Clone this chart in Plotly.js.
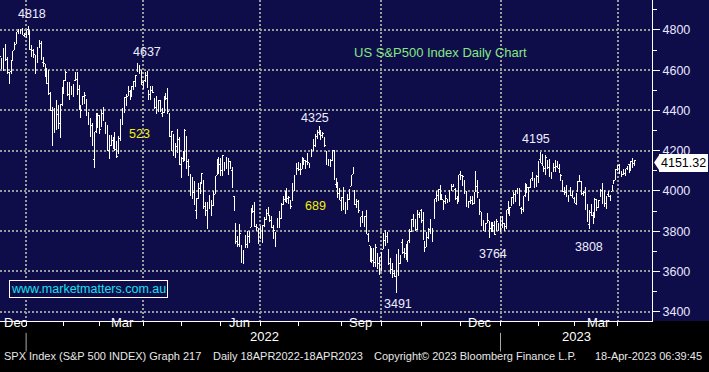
<!DOCTYPE html>
<html>
<head>
<meta charset="utf-8">
<script src="https://cdn.plot.ly/plotly-3.0.1.min.js"></script>
<style>html,body{margin:0;padding:0;background:#000;}#chart{width:709px;height:372px;}
#chart .trace.ohlc path{shape-rendering:crispEdges;}</style>
</head>
<body>
<div id="chart"></div>
<script>
// ---- Data: SPX daily OHLC ----
const dates = [
 '2021-12-13','2021-12-14','2021-12-15','2021-12-16','2021-12-17','2021-12-20','2021-12-21','2021-12-22','2021-12-23','2021-12-27','2021-12-28','2021-12-29','2021-12-30','2021-12-31',
 '2022-01-03','2022-01-04','2022-01-05','2022-01-06','2022-01-07','2022-01-10','2022-01-11','2022-01-12','2022-01-13','2022-01-14','2022-01-18','2022-01-19','2022-01-20','2022-01-21','2022-01-24','2022-01-25','2022-01-26','2022-01-27','2022-01-28','2022-01-31',
 '2022-02-01','2022-02-02','2022-02-03','2022-02-04','2022-02-07','2022-02-08','2022-02-09','2022-02-10','2022-02-11','2022-02-14','2022-02-15','2022-02-16','2022-02-17','2022-02-18','2022-02-22','2022-02-23','2022-02-24','2022-02-25','2022-02-28',
 '2022-03-01','2022-03-02','2022-03-03','2022-03-04','2022-03-07','2022-03-08','2022-03-09','2022-03-10','2022-03-11','2022-03-14','2022-03-15','2022-03-16','2022-03-17','2022-03-18','2022-03-21','2022-03-22','2022-03-23','2022-03-24','2022-03-25','2022-03-28','2022-03-29','2022-03-30','2022-03-31',
 '2022-04-01','2022-04-04','2022-04-05','2022-04-06','2022-04-07','2022-04-08','2022-04-11','2022-04-12','2022-04-13','2022-04-14','2022-04-18','2022-04-19','2022-04-20','2022-04-21','2022-04-22','2022-04-25','2022-04-26','2022-04-27','2022-04-28','2022-04-29',
 '2022-05-02','2022-05-03','2022-05-04','2022-05-05','2022-05-06','2022-05-09','2022-05-10','2022-05-11','2022-05-12','2022-05-13','2022-05-16','2022-05-17','2022-05-18','2022-05-19','2022-05-20','2022-05-23','2022-05-24','2022-05-25','2022-05-26','2022-05-27','2022-05-31',
 '2022-06-01','2022-06-02','2022-06-03','2022-06-06','2022-06-07','2022-06-08','2022-06-09','2022-06-10','2022-06-13','2022-06-14','2022-06-15','2022-06-16','2022-06-17','2022-06-21','2022-06-22','2022-06-23','2022-06-24','2022-06-27','2022-06-28','2022-06-29','2022-06-30',
 '2022-07-01','2022-07-05','2022-07-06','2022-07-07','2022-07-08','2022-07-11','2022-07-12','2022-07-13','2022-07-14','2022-07-15','2022-07-18','2022-07-19','2022-07-20','2022-07-21','2022-07-22','2022-07-25','2022-07-26','2022-07-27','2022-07-28','2022-07-29',
 '2022-08-01','2022-08-02','2022-08-03','2022-08-04','2022-08-05','2022-08-08','2022-08-09','2022-08-10','2022-08-11','2022-08-12','2022-08-15','2022-08-16','2022-08-17','2022-08-18','2022-08-19','2022-08-22','2022-08-23','2022-08-24','2022-08-25','2022-08-26','2022-08-29','2022-08-30','2022-08-31',
 '2022-09-01','2022-09-02','2022-09-06','2022-09-07','2022-09-08','2022-09-09','2022-09-12','2022-09-13','2022-09-14','2022-09-15','2022-09-16','2022-09-19','2022-09-20','2022-09-21','2022-09-22','2022-09-23','2022-09-26','2022-09-27','2022-09-28','2022-09-29','2022-09-30',
 '2022-10-03','2022-10-04','2022-10-05','2022-10-06','2022-10-07','2022-10-10','2022-10-11','2022-10-12','2022-10-13','2022-10-14','2022-10-17','2022-10-18','2022-10-19','2022-10-20','2022-10-21','2022-10-24','2022-10-25','2022-10-26','2022-10-27','2022-10-28','2022-10-31',
 '2022-11-01','2022-11-02','2022-11-03','2022-11-04','2022-11-07','2022-11-08','2022-11-09','2022-11-10','2022-11-11','2022-11-14','2022-11-15','2022-11-16','2022-11-17','2022-11-18','2022-11-21','2022-11-22','2022-11-23','2022-11-25','2022-11-28','2022-11-29','2022-11-30',
 '2022-12-01','2022-12-02','2022-12-05','2022-12-06','2022-12-07','2022-12-08','2022-12-09','2022-12-12','2022-12-13','2022-12-14','2022-12-15','2022-12-16','2022-12-19','2022-12-20','2022-12-21','2022-12-22','2022-12-23','2022-12-27','2022-12-28','2022-12-29','2022-12-30',
 '2023-01-03','2023-01-04','2023-01-05','2023-01-06','2023-01-09','2023-01-10','2023-01-11','2023-01-12','2023-01-13','2023-01-17','2023-01-18','2023-01-19','2023-01-20','2023-01-23','2023-01-24','2023-01-25','2023-01-26','2023-01-27','2023-01-30','2023-01-31',
 '2023-02-01','2023-02-02','2023-02-03','2023-02-06','2023-02-07','2023-02-08','2023-02-09','2023-02-10','2023-02-13','2023-02-14','2023-02-15','2023-02-16','2023-02-17','2023-02-21','2023-02-22','2023-02-23','2023-02-24','2023-02-27','2023-02-28',
 '2023-03-01','2023-03-02','2023-03-03','2023-03-06','2023-03-07','2023-03-08','2023-03-09','2023-03-10','2023-03-13','2023-03-14','2023-03-15','2023-03-16','2023-03-17','2023-03-20','2023-03-21','2023-03-22','2023-03-23','2023-03-24','2023-03-27','2023-03-28','2023-03-29','2023-03-30','2023-03-31',
 '2023-04-03','2023-04-04','2023-04-05','2023-04-06','2023-04-10','2023-04-11','2023-04-12','2023-04-13','2023-04-14','2023-04-17'
];
const open = [
 4710,4642,4637,4719,4652,4587,4594,4650,4704,4733,4795,4788,4795,4775,
 4778,4804,4788,4693,4698,4655,4670,4728,4734,4638,4633,4589,4548,4471,4357,4366,4408,4381,4337,4431,
 4519,4568,4535,4483,4505,4480,4548,4553,4506,4413,4429,4456,4456,4385,4332,4325,4155,4298,4354,
 4363,4323,4401,4342,4327,4202,4224,4253,4280,4202,4188,4289,4345,4407,4463,4470,4493,4470,4523,4541,4602,4624,4600,
 4540,4547,4573,4495,4475,4494,4462,4437,4394,4449,4386,4390,4473,4490,4385,4256,4279,4186,4222,4254,
 4130,4159,4181,4270,4129,4081,4035,3991,3903,3963,4013,4052,4052,3900,3928,3920,3942,3930,3985,4078,4152,
 4150,4096,4137,4135,4096,4148,4102,3975,3838,3764,3764,3729,3665,3715,3733,3774,3821,3913,3913,3825,3785,
 3782,3792,3831,3858,3888,3880,3851,3774,3764,3818,3883,3861,3935,3956,4000,3965,3953,3951,4027,4087,
 4113,4105,4107,4154,4116,4156,4133,4171,4227,4225,4270,4291,4281,4273,4266,4195,4134,4126,4154,4199,4034,4041,4000,
 3937,3994,3930,3910,3960,4023,4083,4000,3941,3933,3831,3849,3876,3871,3783,3727,3683,3687,3651,3687,3633,
 3610,3710,3753,3773,3707,3650,3595,3591,3520,3690,3638,3746,3695,3689,3657,3762,3799,3825,3835,3808,3881,
 3901,3853,3733,3766,3780,3818,3810,3860,3964,3978,4007,3976,3919,3967,3957,3958,4000,4024,4005,3964,3958,
 4087,4040,4052,3997,3934,3947,3954,3940,4070,4015,3958,3891,3853,3811,3839,3853,3816,3844,3829,3805,3830,
 3853,3840,3840,3824,3910,3888,3932,3977,3961,3999,4003,3912,3910,3979,4001,3982,4037,4053,4049,4021,
 4071,4158,4137,4120,4106,4154,4144,4068,4096,4118,4120,4114,4077,4053,4001,4018,3973,3992,3977,
 3964,3938,3998,4056,4048,3987,3998,3912,3835,3894,3876,3878,3959,3917,3975,4002,3959,3939,3982,3974,3999,4047,4057,
 4102,4129,4094,4082,4085,4111,4132,4107,4140,4137
];
const high = [
 4711,4660,4713,4731,4666,4592,4651,4698,4741,4791,4807,4805,4808,4787,
 4797,4819,4798,4726,4708,4674,4715,4749,4744,4665,4633,4612,4603,4494,4418,4411,4453,4429,4432,4517,
 4551,4596,4543,4540,4522,4531,4591,4589,4527,4427,4472,4490,4456,4394,4363,4339,4295,4385,4388,
 4379,4401,4417,4343,4327,4277,4277,4268,4291,4247,4271,4358,4412,4465,4481,4522,4501,4521,4546,4576,4637,4627,4603,
 4549,4593,4594,4504,4521,4521,4464,4471,4453,4453,4410,4471,4489,4512,4386,4300,4279,4240,4308,4269,
 4170,4200,4308,4270,4158,4082,4069,4050,3964,4039,4047,4090,4052,3946,3944,3981,3955,3999,4075,4158,4169,
 4166,4177,4142,4168,4164,4149,4119,3975,3838,3778,3838,3729,3707,3779,3802,3803,3913,3928,3945,3837,3818,
 3827,3832,3871,3911,3919,3880,3874,3829,3796,3864,3903,3939,3975,3999,4013,3976,3954,4039,4079,4141,
 4144,4141,4168,4162,4152,4187,4138,4211,4258,4280,4301,4325,4302,4293,4266,4195,4160,4157,4200,4203,4063,4044,4016,
 3971,4018,3943,3987,4011,4077,4120,4001,3962,3957,3870,3900,3877,3907,3790,3727,3716,3717,3737,3688,3671,
 3697,3791,3807,3798,3712,3665,3641,3608,3685,3712,3680,3762,3719,3737,3753,3810,3862,3887,3860,3905,3894,
 3912,3894,3750,3797,3814,3860,3818,3959,4002,4009,4029,3984,3955,3979,3962,4004,4034,4035,4013,3976,4080,
 4101,4080,4053,4001,3951,3974,3977,3991,4101,4053,3959,3893,3855,3840,3889,3853,3846,3846,3849,3859,3840,
 3878,3874,3840,3907,3951,3920,3970,3997,4003,4015,4014,3922,3973,4039,4033,4020,4061,4095,4064,4077,
 4148,4195,4183,4126,4177,4156,4157,4095,4138,4153,4148,4136,4082,4054,4018,4029,3979,4018,3998,
 3971,3991,4048,4079,4051,4001,4018,3934,3906,3937,3894,3964,3959,3956,4009,4039,4003,3972,4000,3979,4030,4056,4110,
 4128,4134,4099,4108,4110,4124,4134,4151,4164,4152
];
const low = [
 4667,4607,4596,4648,4582,4531,4583,4645,4703,4733,4780,4778,4775,4765,
 4758,4774,4699,4666,4663,4582,4638,4713,4650,4615,4568,4531,4475,4396,4223,4287,4305,4310,4265,4420,
 4484,4545,4470,4451,4477,4465,4548,4477,4402,4365,4429,4430,4374,4327,4268,4222,4115,4287,4315,
 4284,4318,4346,4284,4199,4157,4224,4210,4200,4162,4188,4250,4330,4390,4424,4470,4455,4468,4502,4518,4589,4582,4530,
 4507,4540,4514,4453,4451,4487,4408,4382,4392,4392,4367,4389,4450,4385,4268,4200,4175,4163,4188,4128,
 4063,4144,4150,4107,4076,3975,3959,3929,3859,3959,3984,4033,3911,3876,3810,3909,3875,3925,3985,4078,4084,
 4074,4074,4098,4110,4080,4107,4017,3900,3735,3723,3722,3640,3637,3715,3717,3743,3821,3889,3820,3799,3738,
 3762,3744,3820,3858,3877,3847,3815,3759,3722,3818,3814,3861,3930,3946,3940,3936,3911,3951,3998,4080,
 4097,4079,4107,4128,4108,4129,4112,4168,4201,4219,4257,4278,4253,4262,4219,4130,4124,4121,4147,4057,4017,3965,3954,
 3903,3907,3886,3907,3954,4023,4083,3928,3915,3889,3823,3839,3823,3789,3749,3648,3644,3624,3623,3610,3584,
 3604,3710,3726,3740,3630,3588,3568,3573,3492,3580,3638,3687,3666,3656,3647,3741,3799,3825,3803,3808,3864,
 3843,3758,3698,3722,3763,3786,3745,3860,3944,3949,3953,3955,3907,3933,3940,3946,3999,4020,3956,3937,3943,
 4053,4026,3984,3919,3917,3936,3933,3936,3994,3966,3880,3827,3802,3796,3839,3764,3798,3798,3781,3800,3801,
 3794,3816,3802,3809,3887,3877,3924,3937,3947,3984,3927,3886,3898,3972,3990,3949,4013,4049,4015,4021,
 4038,4141,4123,4094,4080,4111,4070,4061,4093,4095,4114,4089,4048,3995,3982,3972,3944,3977,3968,
 3940,3928,3995,4044,3980,3974,3908,3846,3809,3874,3838,3864,3902,3917,3972,3937,3920,3910,3970,3951,3999,4036,4057,
 4100,4086,4069,4077,4073,4103,4087,4100,4114,4124
];
const close = [
 4669,4634,4710,4669,4621,4568,4649,4697,4726,4791,4786,4793,4779,4766,
 4797,4794,4701,4696,4677,4670,4713,4726,4659,4663,4577,4533,4483,4398,4410,4356,4350,4327,4432,4516,
 4547,4589,4477,4501,4484,4522,4587,4504,4419,4402,4471,4475,4380,4349,4305,4226,4289,4385,4374,
 4306,4387,4363,4329,4201,4171,4278,4260,4204,4173,4262,4358,4412,4463,4461,4512,4456,4520,4543,4576,4632,4602,4530,
 4546,4583,4525,4481,4500,4488,4413,4397,4447,4393,4392,4462,4459,4394,4272,4296,4175,4184,4288,4132,
 4155,4175,4300,4147,4123,3991,4001,3935,3930,4024,4008,4089,3924,3901,3901,3974,3941,3979,4058,4158,4132,
 4101,4177,4109,4121,4161,4116,4018,3901,3750,3735,3790,3667,3675,3765,3760,3796,3912,3900,3822,3819,3785,
 3825,3831,3845,3903,3899,3854,3819,3802,3790,3863,3831,3937,3960,3999,3962,3967,3921,4024,4072,4130,
 4119,4091,4155,4152,4145,4140,4122,4210,4207,4280,4297,4305,4274,4284,4228,4138,4129,4141,4199,4058,4031,3986,3955,
 3967,3924,3908,3980,4006,4067,4110,3933,3946,3901,3873,3900,3856,3790,3758,3693,3655,3647,3719,3640,3586,
 3678,3791,3783,3745,3640,3612,3589,3577,3670,3583,3678,3720,3695,3666,3753,3797,3859,3831,3807,3901,3872,
 3856,3760,3720,3771,3807,3828,3749,3956,3993,3957,3992,3959,3947,3965,3950,4004,4027,4026,3964,3958,4080,
 4077,4072,3999,3941,3934,3964,3934,3991,4020,3995,3896,3852,3818,3822,3878,3822,3845,3829,3783,3849,3840,
 3824,3853,3808,3895,3892,3919,3970,3983,3999,3991,3929,3899,3973,4020,4017,4016,4060,4071,4018,4077,
 4119,4180,4136,4111,4164,4118,4082,4090,4137,4136,4148,4090,4079,3997,3991,4012,3970,3982,3970,
 3951,3981,4046,4048,3986,3992,3918,3862,3856,3919,3892,3960,3917,3952,4003,3937,3949,3971,3978,3971,4028,4051,4109,
 4125,4101,4090,4105,4109,4109,4092,4146,4138,4151.32
];
const lastPrice = 4151.32;

// Market holidays (no bars) and axis marks
const holidays = ['2021-12-24','2022-01-17','2022-02-21','2022-04-15','2022-05-30','2022-06-20','2022-07-04','2022-09-05','2022-11-24','2022-12-26','2023-01-02','2023-01-16','2023-02-20','2023-04-07'];
const quarterStarts = ['2022-01-03','2022-04-01','2022-07-01','2022-10-03','2023-01-03','2023-04-03'];
const monthStarts = ['2022-02-01','2022-03-01','2022-05-02','2022-06-01','2022-08-01','2022-09-01','2022-11-01','2022-12-01','2023-02-01','2023-03-01'];
const yearStarts = ['2022-01-03','2023-01-03'];
const monthLabels = ['Mar','Jun','Sep','Dec','Mar'];
const monthLabelDates = ['2022-03-17','2022-06-15','2022-09-16','2022-12-15','2023-03-20'];
const yearLabels = ['2022','2023'];
const yearLabelDates = ['2022-07-06','2023-03-02'];
const yTicks = [3400,3600,3800,4000,4200,4400,4600,4800];

// Price call-outs
const callTexts = ['4818','4637','4325','4195','3491','3764','3808'];
const callDates = ['2022-01-06','2022-04-05','2022-08-12','2023-01-31','2022-10-14','2022-12-27','2023-03-13'];
const callValues = [4880,4691,4363,4258,3438,3687,3721];
const moveTexts = ['523','689'];
const moveDates = ['2022-03-30','2022-08-12'];
const moveValues = [4283,3925];

const NAVY = '#0f0c4a';
const FONT = 'Liberation Sans, Arial, sans-serif';

const trace = {
  type: 'ohlc', x: dates, open: open, high: high, low: low, close: close,
  increasing: {line: {color: '#ffffff', width: 1}},
  decreasing: {line: {color: '#ffffff', width: 1}},
  tickwidth: 0.45, hoverinfo: 'skip', showlegend: false
};

const annotations = [];
callTexts.forEach((t, i) => annotations.push({
  text: t, x: callDates[i], y: callValues[i], xref: 'x', yref: 'y', showarrow: false,
  font: {family: FONT, size: 12.5, color: '#eeeeff'}
}));
moveTexts.forEach((t, i) => annotations.push({
  text: t, x: moveDates[i], y: moveValues[i], xref: 'x', yref: 'y', showarrow: false,
  font: {family: FONT, size: 12.5, color: '#f2f200'}
}));
annotations.push({
  text: 'US S&P500 Index Daily Chart', x: '2022-11-15', y: 4686, xref: 'x', yref: 'y', showarrow: false,
  font: {family: FONT, size: 13, color: '#82e882'}
});
annotations.push({
  text: 'www.marketmatters.com.au', x: 0.135, xanchor: 'center', y: 0.0997, yanchor: 'middle',
  xref: 'paper', yref: 'paper', showarrow: false,
  font: {family: FONT, size: 12.5, color: '#18e0f0'},
  bordercolor: '#ffffff', borderwidth: 1, borderpad: 1, bgcolor: NAVY
});
annotations.push({
  text: lastPrice.toFixed(2), x: 1, xshift: 7, xanchor: 'left', y: lastPrice, yshift: -2,
  xref: 'paper', yref: 'y', showarrow: false,
  font: {family: FONT, size: 12.5, color: '#000000'},
  bgcolor: '#ffffff', bordercolor: '#ffffff', borderpad: 1
});
// month / year labels under the axis
annotations.push({
  text: 'Dec', x: 0.003, xanchor: 'left', y: -0.034, xref: 'paper', yref: 'paper', showarrow: false,
  font: {family: FONT, size: 13, color: '#ffffff'}
});
monthLabels.forEach((t, i) => annotations.push({
  text: t, x: monthLabelDates[i], y: -0.034, xref: 'x', yref: 'paper', showarrow: false,
  font: {family: FONT, size: 13, color: '#ffffff'}
}));
yearLabels.forEach((t, i) => annotations.push({
  text: t, x: yearLabelDates[i], y: -0.079, xref: 'x', yref: 'paper', showarrow: false,
  font: {family: FONT, size: 13, color: '#ffffff'}
}));
// footer
const footer = [
  ['SPX Index (S&P 500 INDEX) Graph 217', 0.0031],
  ['Daily 18APR2022-18APR2023', 0.3236],
  ['Copyright\u00a9 2023 Bloomberg Finance L.P.', 0.5706],
  ['18-Apr-2023 06:39:45', 0.9095]
];
footer.forEach(f => annotations.push({
  text: f[0], x: f[1], xanchor: 'left', y: -0.134, xref: 'paper', yref: 'paper', showarrow: false,
  font: {family: FONT, size: 11, color: '#e8e8e8'}
}));

const shapes = [
  {type: 'rect', xref: 'paper', yref: 'paper', x0: -0.05, x1: 1.2, y0: -0.3, y1: 0,
   fillcolor: '#000000', line: {width: 0}, layer: 'below'},
  // pointer of the last-price tag
  {type: 'path', xref: 'paper', yref: 'y',
   path: 'M 1.0031,' + (lastPrice - 10) + ' L 1.0123,' + (lastPrice + 34) + ' L 1.0123,' + (lastPrice - 54) + ' Z',
   fillcolor: '#ffffff', line: {width: 0}}
];
yearStarts.forEach(d => shapes.push({
  type: 'line', xref: 'x', yref: 'paper', x0: d, x1: d, y0: -0.037, y1: -0.095,
  line: {color: '#a8a8a8', width: 1}
}));

const gridStyle = {showgrid: true, gridcolor: '#9a9a9a', gridwidth: 2, griddash: '2px,2px'};

const layout = {
  width: 709, height: 372,
  margin: {l: 0, r: 57, t: 0, b: 51, pad: 0},
  paper_bgcolor: NAVY, plot_bgcolor: NAVY,
  showlegend: false,
  font: {family: FONT, color: '#ffffff', size: 13},
  xaxis: Object.assign({
    type: 'date',
    range: ['2021-12-13 04:00', '2023-04-28 04:00'],
    rangebreaks: [{bounds: ['sat', 'mon']}, {values: holidays}],
    rangeslider: {visible: false},
    tickmode: 'array', tickvals: quarterStarts, showticklabels: false,
    ticks: 'outside', ticklen: 4, tickcolor: '#ffffff', tickwidth: 1,
    minor: {tickmode: 'array', tickvals: monthStarts, ticks: 'outside', ticklen: 4, tickcolor: '#ffffff', tickwidth: 1, showgrid: false},
    showline: true, linecolor: '#ffffff', linewidth: 1,
    zeroline: false, fixedrange: true
  }, gridStyle),
  yaxis: Object.assign({
    side: 'right', range: [3354, 4949],
    tickmode: 'array', tickvals: yTicks,
    ticks: 'outside', ticklen: 7, tickcolor: '#ffffff', tickwidth: 1,
    minor: {dtick: 100, tick0: 0, ticks: 'outside', ticklen: 4, tickcolor: '#ffffff', showgrid: false},
    tickfont: {family: FONT, size: 12.5, color: '#e8e8ff'},
    showline: true, linecolor: '#ffffff', linewidth: 1,
    zeroline: false, fixedrange: true
  }, gridStyle),
  annotations: annotations,
  shapes: shapes
};

Plotly.newPlot('chart', [trace], layout, {displayModeBar: false, staticPlot: true});
</script>
</body>
</html>
